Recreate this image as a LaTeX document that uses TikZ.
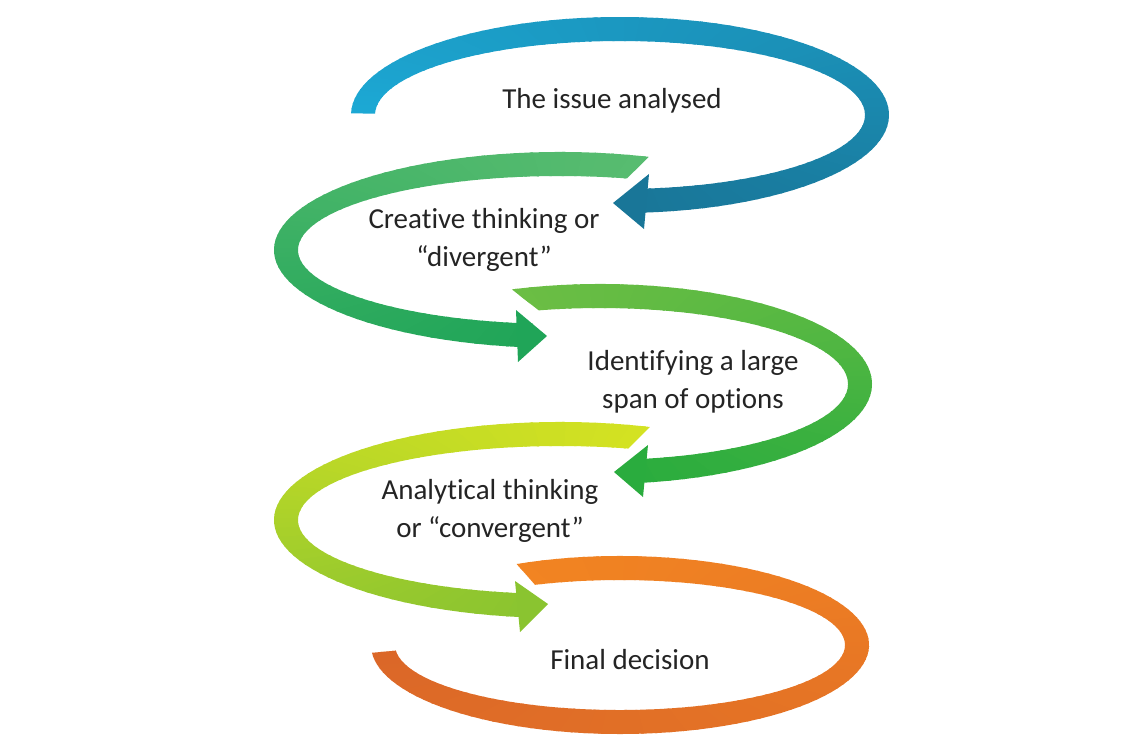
\documentclass[tikz,border=0pt]{standalone}
\usepackage{fontspec}
\setmainfont{Carlito}[Ligatures={NoCommon,NoRare}]
\definecolor{bluetail}{RGB}{28,168,212}
\definecolor{bluehead}{RGB}{25,118,152}
\definecolor{greenAtail}{RGB}{88,188,112}
\definecolor{greenAhead}{RGB}{32,165,88}
\definecolor{greenBtail}{RGB}{108,190,68}
\definecolor{greenBhead}{RGB}{42,172,62}
\definecolor{limetail}{RGB}{212,226,34}
\definecolor{limehead}{RGB}{138,196,48}
\definecolor{orangetail}{RGB}{242,132,34}
\definecolor{orangehead}{RGB}{218,102,40}
\tikzset{stagetext/.style={font=\fontsize{29}{38}\selectfont, text=black!86, align=center}}
\begin{document}
\begin{tikzpicture}[x=1pt,y=-1pt]%
\useasboundingbox (0,0) rectangle (1145,750);%
\coordinate (cissue) at (620,115);%
\coordinate (ccreative) at (560,250);%
\coordinate (coptions) at (600,384);%
\coordinate (canalytical) at (560,520);%
\coordinate (cdecision) at (620,645);%
\begin{scope}[shift={(cissue)}]%
\clip (181:269 and 98) arc[start angle=181, end angle=446, x radius=269, y radius=98] -- (446:245 and 74) arc[start angle=446, end angle=181, x radius=245, y radius=74] -- cycle;%
\foreach \a in {181,184,...,446}{\pgfmathtruncatemacro\p{(\a-181)/265*100}%
\fill[bluehead!\p!bluetail] (0,0) -- (\a:360 and 120) arc[start angle=\a, delta angle=3.6, x radius=360, y radius=120] -- cycle;}%
\end{scope}%
\fill[bluehead] (613,203) -- (649,174) -- (644,229) -- cycle;%
\begin{scope}[shift={(ccreative)}]%
\clip (-71.9:286 and 98) arc[start angle=-71.9, end angle=-264, x radius=286, y radius=98] -- (-264:262 and 74) arc[start angle=-264, end angle=-75.2, x radius=262, y radius=74] -- cycle;%
\foreach \a in {-71,-74,...,-264}{\pgfmathtruncatemacro\p{(-71-\a)/192*100}%
\fill[greenAhead!\p!greenAtail] (0,0) -- (\a:384 and 120) arc[start angle=\a, delta angle=-3.6, x radius=384, y radius=120] -- cycle;}%
\end{scope}%
\fill[greenAhead] (547,336) -- (516,310) -- (518,362) -- cycle;%
\begin{scope}[shift={(coptions)}]%
\clip (251.1:272 and 100) arc[start angle=251.1, end angle=442, x radius=272, y radius=100] -- (442:248 and 76) arc[start angle=442, end angle=255.7, x radius=248, y radius=76] -- cycle;%
\foreach \a in {250,253,...,442}{\pgfmathtruncatemacro\p{(\a-250)/192*100}%
\fill[greenBhead!\p!greenBtail] (0,0) -- (\a:364 and 123) arc[start angle=\a, delta angle=3.6, x radius=364, y radius=123] -- cycle;}%
\end{scope}%
\fill[greenBhead] (614,472) -- (648,445) -- (643,497) -- cycle;%
\begin{scope}[shift={(canalytical)}]%
\clip (-71.7:286 and 98) arc[start angle=-71.7, end angle=-264, x radius=286, y radius=98] -- (-264:262 and 74) arc[start angle=-264, end angle=-74.9, x radius=262, y radius=74] -- cycle;%
\foreach \a in {-71,-74,...,-264}{\pgfmathtruncatemacro\p{(-71-\a)/192*100}%
\fill[limehead!\p!limetail] (0,0) -- (\a:384 and 120) arc[start angle=\a, delta angle=-3.6, x radius=384, y radius=120] -- cycle;}%
\end{scope}%
\fill[limehead] (548,604) -- (515,581) -- (520,632) -- cycle;%
\begin{scope}[shift={(cdecision)}]%
\clip (245.5:249 and 89) arc[start angle=245.5, end angle=535, x radius=249, y radius=89] -- (535:225 and 65) arc[start angle=535, end angle=247.8, x radius=225, y radius=65] -- cycle;%
\foreach \a in {244,247,...,535}{\pgfmathtruncatemacro\p{(\a-244)/291*100}%
\fill[orangehead!\p!orangetail] (0,0) -- (\a:332 and 108) arc[start angle=\a, delta angle=3.6, x radius=332, y radius=108] -- cycle;}%
\end{scope}%
\node[stagetext] (issue) at (612,101) {The issue analysed};%
\node[stagetext] (creative) at (484,240) {Creative thinking or\\“divergent”};%
\node[stagetext] (options) at (693,382) {Identifying a large\\span of options};%
\node[stagetext] (analytical) at (490,511) {Analytical thinking\\or “convergent”};%
\node[stagetext] (decision) at (630,660) {Final decision};%
\end{tikzpicture}
\end{document}
